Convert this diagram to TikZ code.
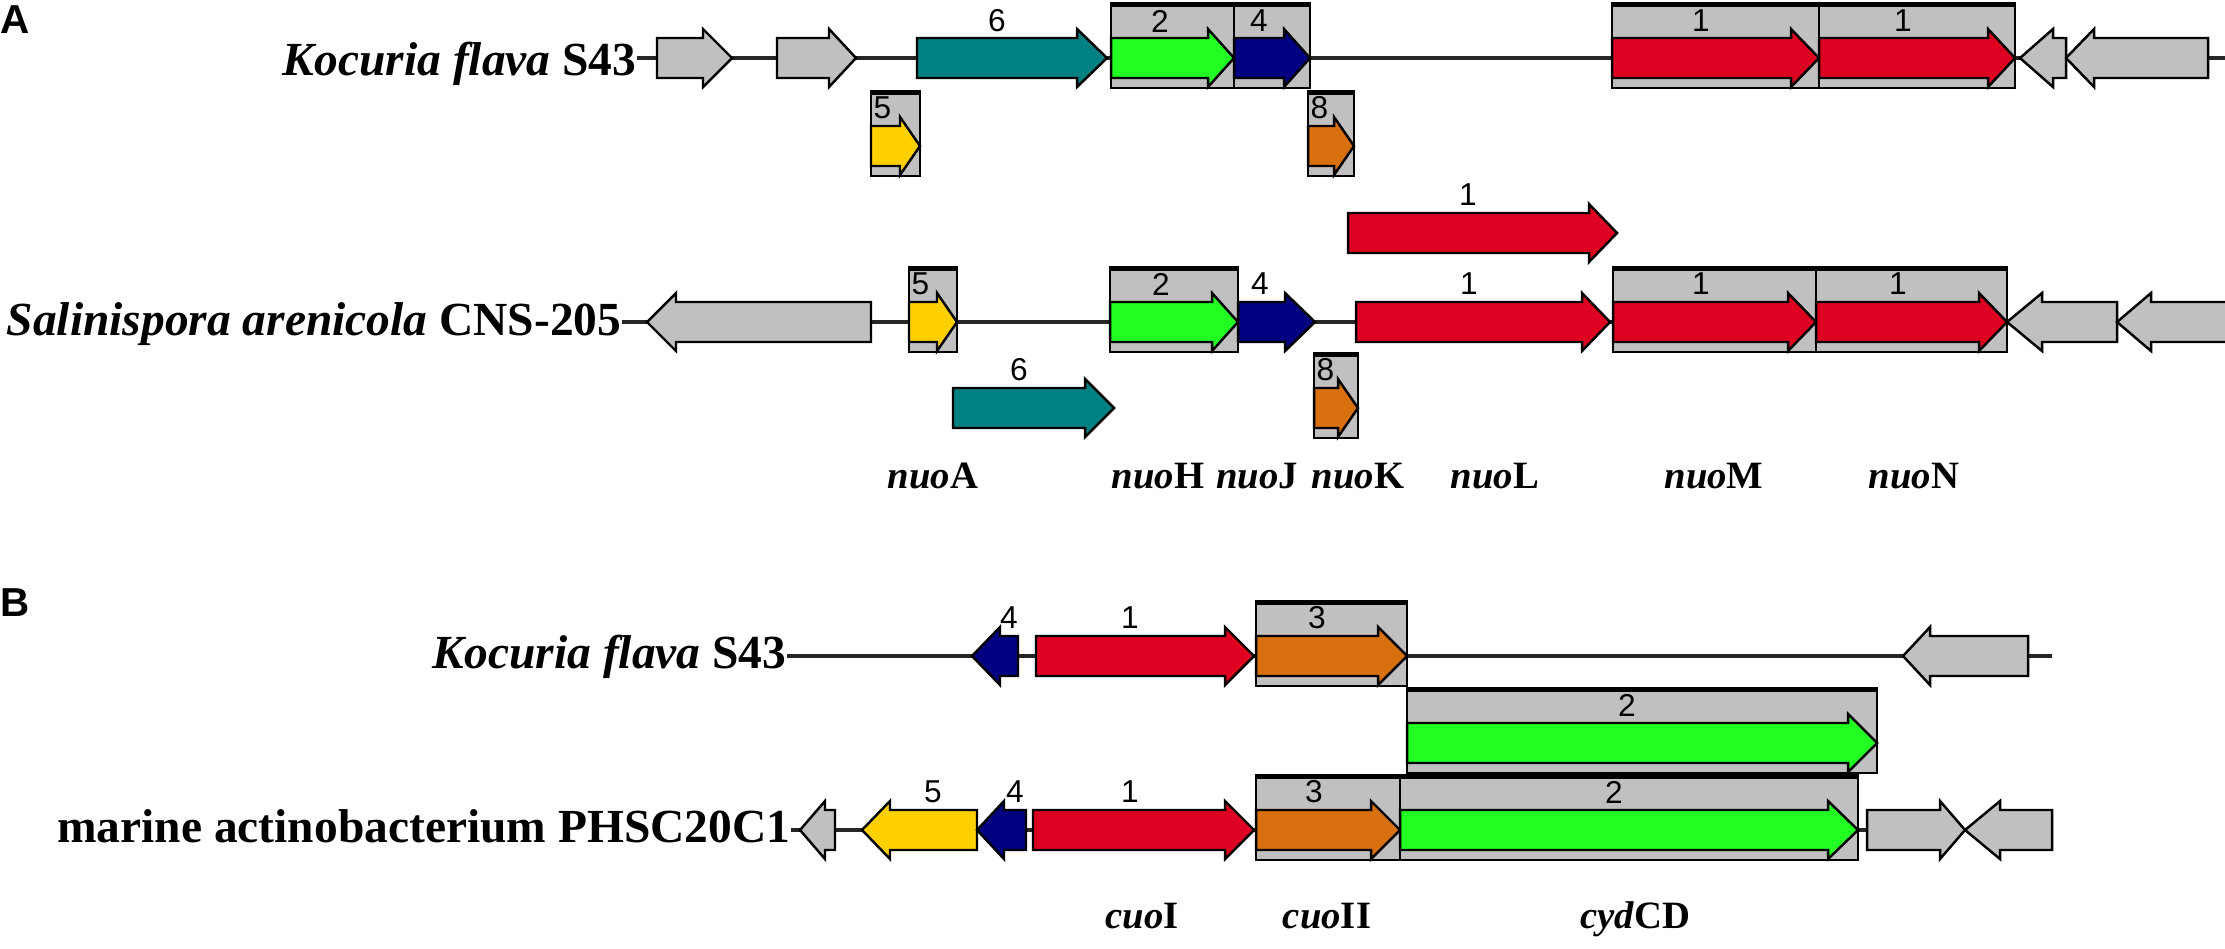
\documentclass[tikz,border=0pt]{standalone}
\usepackage{fontspec}
\setmainfont{Liberation Serif}
\newfontfamily\numfont{Liberation Sans}
\usepackage{xcolor}

\definecolor{genegray}{RGB}{192,192,192}
\definecolor{geneteal}{RGB}{0,128,128}
\definecolor{genegreen}{RGB}{34,255,34}
\definecolor{genenavy}{RGB}{0,0,128}
\definecolor{genered}{RGB}{221,0,32}
\definecolor{geneorange}{RGB}{217,112,15}
\definecolor{geneyellow}{RGB}{255,208,0}

% gene arrows: style, x start, x end, y centre, head length
\newcommand{\fwdgene}[5]{\filldraw[gene,#1] (#2,#4-20) -- (#3-#5,#4-20) -- (#3-#5,#4-29) -- (#3,#4) -- (#3-#5,#4+29) -- (#3-#5,#4+20) -- (#2,#4+20) -- cycle;}
\newcommand{\revgene}[5]{\filldraw[gene,#1] (#2,#4) -- (#2+#5,#4-29) -- (#2+#5,#4-20) -- (#3,#4-20) -- (#3,#4+20) -- (#2+#5,#4+20) -- (#2+#5,#4+29) -- cycle;}
% grey cluster box: x start, x end, y centre
\newcommand{\hitbox}[3]{\filldraw[hitframe] (#1,#3-55) rectangle (#2,#3+30); \draw[line width=0.9pt] (#1,#3-53) -- (#2,#3-53);}

\tikzset{
  gene/.style={draw=black,line width=0.7pt,line join=miter},
  hitframe/.style={draw=black,fill=genegray,line width=0.7pt},
  chrom/.style={line width=0.9pt,black!85},
  num/.style={font=\numfont\fontsize{9}{10}\selectfont,inner sep=0pt},
  species/.style={font=\bfseries\fontsize{13.5}{16}\selectfont,inner sep=0pt,anchor=base east},
  genename/.style={font=\bfseries\fontsize{11}{13}\selectfont,inner sep=0pt,anchor=base},
  panel/.style={font=\numfont\bfseries\fontsize{11.5}{13}\selectfont,inner sep=0pt}
}

\begin{document}
\begin{tikzpicture}[x=0.01cm,y=-0.01cm]
        \useasboundingbox (0,0) rectangle (2225,948);

        % panel A
        \node[panel] (pa) at (15,20) {A};

        \node[species] (kfa) at (637,75) {\textit{Kocuria flava} S43};
        \coordinate (kfaend) at (2225,58);
        \draw[chrom] (kfa.east |- kfaend) -- (kfaend);

        \node[species] (sar) at (622,335) {\textit{Salinispora arenicola} CNS-205};
        \coordinate (sarend) at (2225,322);
        \draw[chrom] (sar.east |- sarend) -- (sarend);

        \hitbox{1111}{1234}{58}
        \hitbox{1234}{1310}{58}
        \hitbox{1612}{1819}{58}
        \hitbox{1819}{2015}{58}
        \hitbox{871}{920}{146}
        \hitbox{1308}{1354}{146}
        \hitbox{909}{957}{322}
        \hitbox{1110}{1238}{322}
        \hitbox{1613}{1816}{322}
        \hitbox{1816}{2007}{322}
        \hitbox{1314}{1358}{408}

        \fwdgene{fill=genegray}{657}{732}{58}{29}
        \fwdgene{fill=genegray}{777}{856}{58}{27}
        \fwdgene{fill=geneteal}{917}{1107}{58}{30}
        \fwdgene{fill=genegreen}{1111}{1234}{58}{26}
        \fwdgene{fill=genenavy}{1234}{1310}{58}{26}
        \fwdgene{fill=genered}{1612}{1819}{58}{28}
        \fwdgene{fill=genered}{1819}{2015}{58}{27}
        \revgene{fill=genegray}{2020}{2066}{58}{33}
        \revgene{fill=genegray}{2066}{2208}{58}{28}

        \fwdgene{fill=geneyellow}{871}{920}{146}{20}
        \fwdgene{fill=geneorange}{1308}{1354}{146}{20}
        \fwdgene{fill=genered}{1348}{1617}{233}{28}

        \revgene{fill=genegray}{647}{871}{322}{29}
        \fwdgene{fill=geneyellow}{909}{957}{322}{20}
        \fwdgene{fill=genegreen}{1110}{1238}{322}{26}
        \fwdgene{fill=genenavy}{1238}{1315}{322}{30}
        \fwdgene{fill=genered}{1356}{1610}{322}{28}
        \fwdgene{fill=genered}{1613}{1816}{322}{28}
        \fwdgene{fill=genered}{1816}{2007}{322}{28}
        \revgene{fill=genegray}{2007}{2117}{322}{35}
        \revgene{fill=genegray}{2117}{2240}{322}{34}

        \fwdgene{fill=geneteal}{953}{1114}{408}{29}
        \fwdgene{fill=geneorange}{1314}{1358}{408}{20}

        \node[num] (a1six) at (997,21) {6};
        \node[num] (a1two) at (1160,21) {2};
        \node[num] (a1four) at (1259,21) {4};
        \node[num] (a1onel) at (1701,21) {1};
        \node[num] (a1oner) at (1903,21) {1};
        \node[num,anchor=west] (a1five) at (873,108) {5};
        \node[num,anchor=west] (a1eight) at (1310,108) {8};
        \node[num] (aone) at (1468,195) {1};
        \node[num,anchor=west] (a2five) at (911,284) {5};
        \node[num] (a2two) at (1161,284) {2};
        \node[num] (a2four) at (1260,284) {4};
        \node[num] (a2one) at (1469,284) {1};
        \node[num] (a2onel) at (1701,284) {1};
        \node[num] (a2oner) at (1898,284) {1};
        \node[num] (a3six) at (1019,370) {6};
        \node[num,anchor=west] (a3eight) at (1316,370) {8};

        \node[genename] (nuoa) at (933,488) {\textit{nuo}A};
        \node[genename] (nuoh) at (1158,488) {\textit{nuo}H};
        \node[genename] (nuoj) at (1257,488) {\textit{nuo}J};
        \node[genename] (nuok) at (1358,488) {\textit{nuo}K};
        \node[genename] (nuol) at (1495,488) {\textit{nuo}L};
        \node[genename] (nuom) at (1714,488) {\textit{nuo}M};
        \node[genename] (nuon) at (1914,488) {\textit{nuo}N};

        % panel B
        \node[panel] (pb) at (15,603) {B};

        \node[species] (kfb) at (787,668) {\textit{Kocuria flava} S43};
        \coordinate (kfbend) at (2052,656);
        \draw[chrom] (kfb.east |- kfbend) -- (kfbend);

        \node[species] (mab) at (791,842) {marine actinobacterium PHSC20C1};
        \coordinate (mabend) at (2052,830);
        \draw[chrom] (mab.east |- mabend) -- (mabend);

        \hitbox{1256}{1407}{656}
        \hitbox{1407}{1877}{743}
        \hitbox{1256}{1400}{830}
        \hitbox{1400}{1858}{830}

        \revgene{fill=genenavy}{972}{1018}{656}{28}
        \fwdgene{fill=genered}{1036}{1254}{656}{29}
        \fwdgene{fill=geneorange}{1256}{1407}{656}{29}
        \revgene{fill=genegray}{1903}{2028}{656}{27}

        \fwdgene{fill=genegreen}{1407}{1877}{743}{29}

        \revgene{fill=genegray}{800}{835}{830}{25}
        \revgene{fill=geneyellow}{862}{977}{830}{28}
        \revgene{fill=genenavy}{977}{1026}{830}{27}
        \fwdgene{fill=genered}{1033}{1254}{830}{29}
        \fwdgene{fill=geneorange}{1256}{1400}{830}{29}
        \fwdgene{fill=genegreen}{1400}{1858}{830}{30}
        \fwdgene{fill=genegray}{1867}{1965}{830}{25}
        \revgene{fill=genegray}{1965}{2052}{830}{35}

        \node[num] (b1four) at (1009,618) {4};
        \node[num] (b1one) at (1130,618) {1};
        \node[num] (b1three) at (1317,618) {3};
        \node[num] (bmtwo) at (1627,705) {2};
        \node[num] (b2five) at (933,792) {5};
        \node[num] (b2four) at (1015,792) {4};
        \node[num] (b2one) at (1130,792) {1};
        \node[num] (b2three) at (1314,792) {3};
        \node[num] (b2two) at (1614,792) {2};

        \node[genename] (cuoi) at (1142,928) {\textit{cuo}I};
        \node[genename] (cuoii) at (1327,928) {\textit{cuo}II};
        \node[genename] (cydcd) at (1635,928) {\textit{cyd}CD};

      \end{tikzpicture}
\end{document}
